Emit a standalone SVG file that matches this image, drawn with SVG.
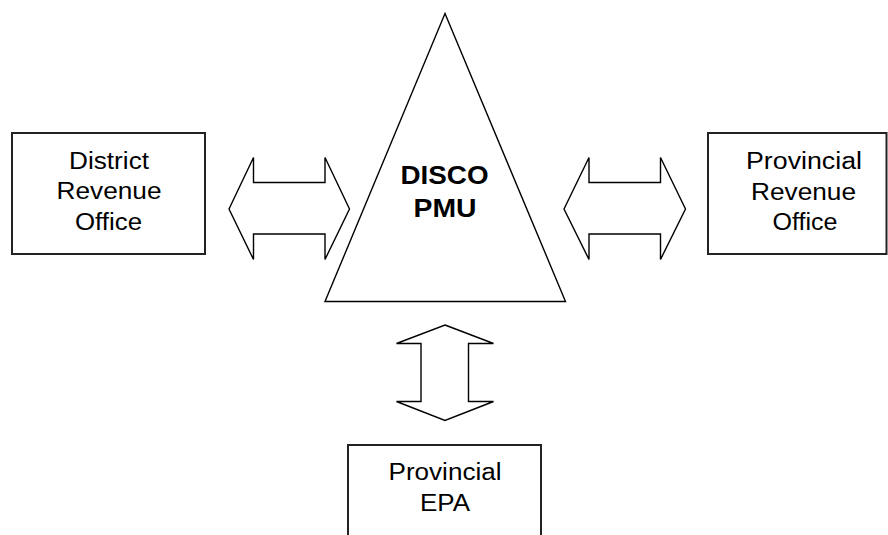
<svg xmlns="http://www.w3.org/2000/svg" width="888" height="535" viewBox="0 0 888 535">
<style>
.box{fill:#fff;stroke:#222;stroke-width:2}
.shape{fill:#fff;stroke:#000;stroke-width:1.4;stroke-linejoin:miter}
.t{font-family:"Liberation Sans",Arial,sans-serif;font-size:23.5px;fill:#000;text-anchor:middle}
.b{font-family:"Liberation Sans",Arial,sans-serif;font-size:25.5px;font-weight:bold;fill:#000;text-anchor:middle}
</style>
<rect width="888" height="535" fill="#fff"/>
<g id="district">
<rect class="box" x="12" y="133" width="193" height="121"/>
<text class="t" x="109" y="168.5" textLength="80" lengthAdjust="spacingAndGlyphs">District</text>
<text class="t" x="109" y="199" textLength="105" lengthAdjust="spacingAndGlyphs">Revenue</text>
<text class="t" x="108.5" y="229.5" textLength="67" lengthAdjust="spacingAndGlyphs">Office</text>
</g>
<g id="provincial-revenue">
<rect class="box" x="708" y="133" width="178.5" height="121"/>
<text class="t" x="804" y="169" textLength="116" lengthAdjust="spacingAndGlyphs">Provincial</text>
<text class="t" x="803.5" y="199.5" textLength="105" lengthAdjust="spacingAndGlyphs">Revenue</text>
<text class="t" x="805" y="229.5" textLength="65" lengthAdjust="spacingAndGlyphs">Office</text>
</g>
<g id="disco">
<polygon class="shape" points="445,13.5 565.5,301.5 325,301.5"/>
<text class="b" x="444.5" y="183.5" textLength="88" lengthAdjust="spacingAndGlyphs">DISCO</text>
<text class="b" x="445" y="217" textLength="63" lengthAdjust="spacingAndGlyphs">PMU</text>
</g>
<g id="epa">
<path class="box" d="M348,536 V445 H541 V536"/>
<text class="t" x="445" y="480" textLength="113" lengthAdjust="spacingAndGlyphs">Provincial</text>
<text class="t" x="445" y="511" textLength="50" lengthAdjust="spacingAndGlyphs">EPA</text>
</g>
<g id="connectors">
<polygon class="shape" points="229,209 253.5,157.5 253.5,182.5 325,182.5 325,157.5 349.5,209 325,259.5 325,234 253.5,234 253.5,259.5"/>
<polygon class="shape" points="564,209 589,157.5 589,182.5 660.5,182.5 660.5,157.5 685.5,209 660.5,259.5 660.5,234 589,234 589,259.5"/>
<polygon class="shape" points="445,325 493.5,343.5 468.5,343.5 468.5,401.5 493.5,401.5 445,420.5 396.5,401.5 421,401.5 421,343.5 396.5,343.5"/>
</g>
</svg>
